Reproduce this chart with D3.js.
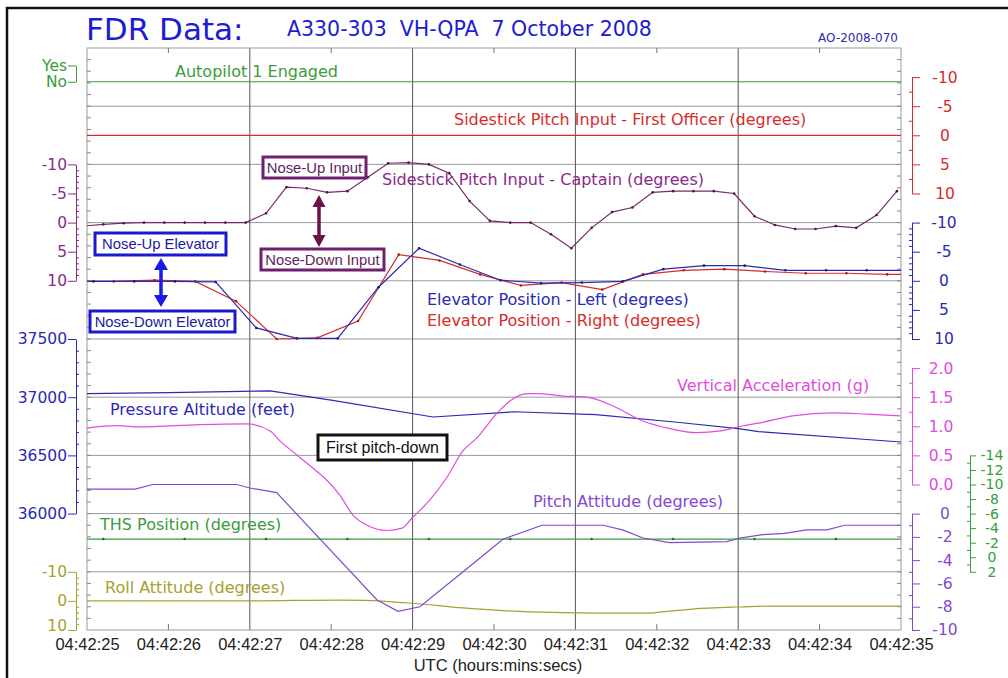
<!DOCTYPE html>
<html>
<head>
<meta charset="utf-8">
<script src="https://cdn.jsdelivr.net/npm/d3@7"></script>
<style>
body { margin: 0; background: #fff; }
svg { display: block; font-family: "DejaVu Sans", sans-serif; }
.ax text { font-family: "DejaVu Sans", sans-serif; }
.tx text { font-family: "Liberation Sans", Arial, sans-serif; }
</style>
</head>
<body>
<svg id="chart" width="1008" height="678"></svg>
<script>
// seconds after 04:42:25
var timeTickValues = [0, 1, 2, 3, 4, 5, 6, 7, 8, 9, 10];
var timeLabels = ["04:42:25", "04:42:26", "04:42:27", "04:42:28", "04:42:29", "04:42:30",
                  "04:42:31", "04:42:32", "04:42:33", "04:42:34", "04:42:35"];

var autopilotT = [0, 10];
var autopilotV = [0, 0];          // 0 = No, 1 = Yes

var foStickT = [0, 10];
var foStickV = [0, 0];

var captStickT = [-0.05, 0.2, 0.45, 0.7, 0.95, 1.2, 1.45, 1.7, 1.95, 2.2, 2.45, 2.7, 2.95, 3.2,
                  3.45, 3.7, 3.95, 4.2, 4.45, 4.7, 4.95, 5.2, 5.45, 5.7, 5.95, 6.2, 6.45, 6.7,
                  6.95, 7.2, 7.45, 7.7, 7.95, 8.2, 8.45, 8.7, 8.95, 9.2, 9.45, 9.7, 9.95];
var captStickV = [0.6, 0.3, 0.1, 0, 0, 0, 0, 0, 0, -1.6, -6.1, -5.9, -5.2, -5.4,
                  -7.8, -10.2, -10.3, -10.0, -8.5, -3.7, -0.3, 0, 0, 2.0, 4.4, 0.9, -1.8, -2.6,
                  -5.2, -5.4, -5.4, -5.4, -5.0, -1.1, 0.4, 1.1, 1.1, 0.6, 0.9, -1.3, -5.4];

var elevLeftT = [-0.42, 0.08, 0.58, 1.08, 1.58, 2.08, 2.58, 3.08, 3.58, 4.08, 4.58,
                 5.08, 5.58, 6.08, 6.58, 7.08, 7.58, 8.08, 8.58, 9.08, 9.58, 10.08];
var elevLeftV = [0.1, 0.1, 0.1, 0.1, 0.2, 8.1, 9.9, 9.9, 1.1, -5.6, -2.8,
                 -0.1, 0.4, 0.3, 0.1, -2.0, -2.6, -2.6, -1.8, -1.8, -1.8, -1.8];

var elevRightT = [-0.17, 0.33, 0.83, 1.33, 1.83, 2.33, 2.83, 3.33, 3.83, 4.33, 4.83,
                  5.33, 5.83, 6.33, 6.83, 7.33, 7.83, 8.33, 8.83, 9.33, 9.83, 10.33];
var elevRightV = [0.1, 0.1, -0.1, 0.1, 3.5, 10.0, 9.8, 6.9, -4.5, -3.5, -1.1,
                  0.8, 0.3, 1.5, -1.1, -1.8, -2.0, -1.6, -1.3, -1.3, -1.1, -1.1];

var altitudeT = [0, 1, 2.25, 3, 4.25, 5.25, 6.25, 7.25, 8, 8.25, 10];
var altitudeV = [37030, 37040, 37055, 36975, 36830, 36875, 36850, 36785, 36730, 36705, 36615];

var vertAccT = [0, 0.37, 0.65, 1.39, 1.97, 2.25, 2.37, 2.62, 3.11, 3.27, 3.44, 3.69, 3.87, 3.99,
                4.21, 4.42, 4.62, 4.79, 5.04, 5.2, 5.41, 5.53, 5.85, 6.14, 6.46, 6.83, 7.16,
                7.49, 7.78, 8.06, 8.27, 8.67, 9.16, 9.58, 9.99];
var vertAccV = [0.97, 1.01, 0.99, 1.03, 1.04, 0.92, 0.75, 0.46, -0.19, -0.53, -0.70, -0.79, -0.75, -0.58,
                -0.27, 0.12, 0.58, 0.80, 1.23, 1.44, 1.56, 1.56, 1.52, 1.50, 1.35, 1.09, 0.96,
                0.89, 0.92, 1.01, 1.06, 1.18, 1.23, 1.21, 1.18];

var pitchT = [0, 0.59, 0.81, 1.84, 2.0, 2.33, 3.56, 3.82, 4.09, 4.62, 5.11, 5.59, 6.34, 6.58,
              6.83, 7.16, 7.86, 8.02, 8.3, 8.57, 8.84, 9.09, 9.31, 10];
var pitchV = [2.1, 2.1, 2.5, 2.5, 2.2, 1.8, -7.4, -8.4, -8.0, -5.0, -2.2, -1.0, -1.0, -1.4,
              -2.1, -2.5, -2.4, -2.1, -1.8, -1.7, -1.4, -1.4, -1.0, -1.0];

var thsT = [-0.8, 0.2, 1.2, 2.2, 3.2, 4.2, 5.2, 6.2, 7.2, 8.2, 9.2, 10.2];
var thsV = [-2.5, -2.5, -2.5, -2.5, -2.5, -2.5, -2.5, -2.5, -2.5, -2.5, -2.5, -2.5];

var rollT = [0, 2.0, 3.1, 3.4, 4.0, 4.62, 5.44, 6.26, 6.88, 7.16, 7.44, 7.99, 8.39, 10];
var rollV = [0, 0, -0.3, -0.2, 0.8, 2.4, 3.8, 4.2, 4.2, 3.5, 2.8, 2.1, 1.8, 1.8];

// colours
var cGreen = "#3a9c3a", cRed = "#d62c2c", cCapt = "#7a2a6c", cCaptTxt = "#8a2a8a",
    cBlue = "#2a2ab4", cMag = "#e04ce0", cPitch = "#8448d0", cOlive = "#a8a030",
    cTitle = "#1c1cd2", cGrid = "#9a9a9a", cGridDark = "#555";

var svg = d3.select("#chart");
svg.append("rect").attr("width", 1008).attr("height", 678).attr("fill", "#fff");

var x = d3.scaleLinear().domain([0, 10]).range([87, 901]);
var row = d3.scaleLinear().domain([0, 10]).range([48, 630]);   // ten grid bands

var yAuto  = d3.scaleLinear().domain([0, 1]).range([row(0.58), row(0.3)]);
var yFo    = d3.scaleLinear().domain([-10, 10]).range([row(0.5), row(2.5)]);
var yCapt  = d3.scaleLinear().domain([-10, 10]).range([row(2), row(4)]);
var yElev  = d3.scaleLinear().domain([-10, 10]).range([row(3), row(5)]);
var yAlt   = d3.scaleLinear().domain([37500, 36000]).range([row(5), row(8)]);
var yAcc   = d3.scaleLinear().domain([2, 0]).range([row(5.5), row(7.5)]);
var yPitch = d3.scaleLinear().domain([0, -10]).range([row(8), row(10)]);
var yThs   = d3.scaleLinear().domain([-14, 2]).range([row(7), row(9)]);
var yRoll  = d3.scaleLinear().domain([-10, 10]).range([row(9), row(10)]);

// outer frame
svg.append("rect").attr("x", 7).attr("y", 8).attr("width", 1100).attr("height", 800)
  .attr("fill", "none").attr("stroke", "#111").attr("stroke-width", 2.5);

// grid
var grid = svg.append("g");
grid.selectAll(".h").data(d3.range(1, 10)).enter().append("line")
  .attr("x1", x(0)).attr("x2", x(10)).attr("y1", d => row(d)).attr("y2", d => row(d))
  .attr("stroke", cGrid).attr("stroke-width", 1);
grid.selectAll(".v").data([2, 4, 6, 8]).enter().append("line")
  .attr("x1", d => x(d)).attr("x2", d => x(d)).attr("y1", row(0)).attr("y2", row(10))
  .attr("stroke", cGridDark).attr("stroke-width", 1);
grid.append("rect").attr("x", x(0)).attr("y", row(0)).attr("width", x(10) - x(0)).attr("height", row(10) - row(0))
  .attr("fill", "none").attr("stroke", cGrid).attr("stroke-width", 1);
// small inner ticks round the plot frame
grid.selectAll(".tt").data([1, 3, 5, 7, 9]).enter().append("path")
  .attr("d", d => "M" + x(d) + "," + row(0) + "v5M" + x(d) + "," + row(10) + "v-6")
  .attr("stroke", "#777");
grid.selectAll(".st").data(d3.range(0.2, 10, 0.2)).enter().append("path")
  .attr("d", d => "M" + x(0) + "," + row(d) + "h4M" + x(10) + "," + row(d) + "h-4")
  .attr("stroke", "#888");

// axes
function axisBlock(o) {
  var g = svg.append("g").attr("class", "ax").attr("transform", "translate(" + o.x + ",0)").style("color", o.color);
  var maj = (o.side === "left" ? d3.axisLeft(o.scale) : d3.axisRight(o.scale))
    .tickValues(o.major).tickSizeInner(o.len || 8).tickSizeOuter(0).tickPadding(1)
    .tickFormat(o.fmt || String);
  g.call(maj);
  g.selectAll(".tick text").style("font-size", o.fs + "px").attr("fill", o.color);
  if (o.lastDy) g.selectAll(".tick text").filter(d => d === o.major[o.major.length - 1]).attr("dy", o.lastDy);
  if (o.labelX !== undefined) {
    g.selectAll(".tick text").attr("x", o.labelX - o.x).attr("text-anchor", "middle");
  }
  if (o.minor) {
    var mn = (o.side === "left" ? d3.axisRight(o.scale) : d3.axisLeft(o.scale))
      .tickValues(o.minor).tickSizeInner(3).tickSizeOuter(0).tickFormat("");
    g.append("g").call(mn).select(".domain").remove();
  }
}

axisBlock({side: "left", x: 76, scale: yAuto, major: [1, 0], color: cGreen, fs: 15.5,
  fmt: d => d ? "Yes" : "No"});
axisBlock({side: "left", x: 76, scale: yCapt, major: [-10, -5, 0, 5, 10], color: cCaptTxt, fs: 15.5,
  minor: d3.range(-9, 10).filter(d => d % 5)});
axisBlock({side: "left", x: 76, scale: yAlt, major: [37500, 37000, 36500, 36000], color: cBlue, fs: 15.5,
  minor: d3.range(36100, 37500, 100).filter(d => d % 500)});
axisBlock({side: "left", x: 76, scale: yRoll, major: [-10, 0, 10], color: cOlive, fs: 15.5, lastDy: "0.05em",
  minor: [-8, -6, -4, -2, 2, 4, 6, 8]});

axisBlock({side: "right", x: 912, scale: yFo, major: [-10, -5, 0, 5, 10], color: cRed, fs: 15.5, labelX: 945,
  minor: [-7.5, -2.5, 2.5, 7.5]});
axisBlock({side: "right", x: 912, scale: yElev, major: [-10, -5, 0, 5, 10], color: cBlue, fs: 15.5, labelX: 944,
  minor: d3.range(-9, 10).filter(d => d % 5)});
axisBlock({side: "right", x: 912, scale: yAcc, major: [2, 1.5, 1, 0.5, 0], color: cMag, fs: 15.5, labelX: 941,
  fmt: d => d.toFixed(1), minor: [1.75, 1.25, 0.75, 0.25]});
axisBlock({side: "right", x: 912, scale: yPitch, major: [0, -2, -4, -6, -8, -10], color: cPitch, fs: 15.5, labelX: 945,
  minor: [-1, -3, -5, -7, -9]});
axisBlock({side: "right", x: 970, scale: yThs, major: [-14, -12, -10, -8, -6, -4, -2, 0, 2], color: cGreen, fs: 14,
  len: 6, labelX: 992, minor: [-13, -11, -9, -7, -5, -3, -1, 1]});

// time axis
var xg = svg.append("g").attr("class", "tx").attr("transform", "translate(0," + row(10) + ")");
xg.call(d3.axisBottom(x).tickValues(timeTickValues).tickSize(0).tickPadding(8)
  .tickFormat(d => timeLabels[d]));
xg.select(".domain").remove();
xg.selectAll(".tick text").style("font-size", "16.5px").attr("fill", "#222");

// data
svg.append("clipPath").attr("id", "plotClip").append("rect")
  .attr("x", x(0)).attr("y", row(0)).attr("width", x(10) - x(0)).attr("height", row(10) - row(0));
var plot = svg.append("g").attr("clip-path", "url(#plotClip)");

function drawSeries(T, V, yS, color, opt) {
  opt = opt || {};
  var pts = d3.zip(T, V);
  var line = d3.line().x(d => x(d[0])).y(d => yS(d[1])).curve(opt.curve || d3.curveLinear);
  plot.append("path").datum(pts).attr("d", line).attr("fill", "none")
    .attr("stroke", color).attr("stroke-width", opt.w || 1.2);
  if (opt.dots) {
    plot.append("g").selectAll("circle").data(pts).enter().append("circle")
      .attr("cx", d => x(d[0])).attr("cy", d => yS(d[1])).attr("r", 1.3).attr("fill", opt.dotColor || color);
  }
}

drawSeries(autopilotT, autopilotV, yAuto, cGreen);
drawSeries(foStickT, foStickV, yFo, cRed);
drawSeries(thsT, thsV, yThs, cGreen, {dots: true, dotColor: "#2a6a2a"});
drawSeries(rollT, rollV, yRoll, cOlive, {curve: d3.curveMonotoneX});
drawSeries(altitudeT, altitudeV, yAlt, cBlue);
drawSeries(vertAccT, vertAccV, yAcc, cMag, {curve: d3.curveMonotoneX});
drawSeries(pitchT, pitchV, yPitch, cPitch);
drawSeries(captStickT, captStickV, yCapt, cCapt, {dots: true, dotColor: "#4a1a40"});
drawSeries(elevRightT, elevRightV, yElev, cRed, {dots: true, dotColor: "#b01818"});
drawSeries(elevLeftT, elevLeftV, yElev, cBlue, {dots: true, dotColor: "#1a1a80"});

// titles and series labels
svg.append("text").attr("x", 86).attr("y", 40).attr("fill", cTitle).style("font-size", "31px").text("FDR Data:");
svg.append("text").attr("x", 287).attr("y", 36).attr("fill", cTitle).style("font-size", "20.5px")
  .attr("xml:space", "preserve").text("A330-303  VH-QPA  7 October 2008");
svg.append("text").attr("x", 898).attr("y", 42).attr("text-anchor", "end").attr("fill", "#2a2ab0")
  .style("font-size", "12px").text("AO-2008-070");

var labels = [
  ["Autopilot 1 Engaged", 175, 77, cGreen],
  ["Sidestick Pitch Input - First Officer (degrees)", 454, 125, cRed],
  ["Sidestick Pitch Input - Captain (degrees)", 382, 185, cCaptTxt],
  ["Elevator Position - Left (degrees)", 427, 305, cBlue],
  ["Elevator Position - Right (degrees)", 427, 326, cRed],
  ["Vertical Acceleration (g)", 677, 391, cMag],
  ["Pressure Altitude (feet)", 110, 415, cBlue],
  ["Pitch Attitude (degrees)", 533, 507, cPitch],
  ["THS Position (degrees)", 100, 530, cGreen],
  ["Roll Attitude (degrees)", 105, 593, cOlive]
];
svg.append("g").selectAll("text").data(labels).enter().append("text")
  .attr("x", d => d[1]).attr("y", d => d[2]).attr("fill", d => d[3])
  .style("font-size", "16px").text(d => d[0]);

svg.append("text").attr("x", 498).attr("y", 671).attr("text-anchor", "middle").attr("fill", "#222")
  .style("font-family", "'Liberation Sans', Arial, sans-serif").style("font-size", "16.5px")
  .text("UTC (hours:mins:secs)");

// annotations
function arrow(xc, ya, yb, color, hw, hh, sw) {
  var g = svg.append("g");
  g.append("line").attr("x1", xc).attr("x2", xc).attr("y1", ya + hh - 1).attr("y2", yb - hh + 1)
    .attr("stroke", color).attr("stroke-width", sw);
  g.append("path").attr("fill", color)
    .attr("d", "M" + xc + "," + ya + "L" + (xc + hw) + "," + (ya + hh) + "L" + (xc - hw) + "," + (ya + hh) + "Z" +
               "M" + xc + "," + yb + "L" + (xc + hw) + "," + (yb - hh) + "L" + (xc - hw) + "," + (yb - hh) + "Z");
}
arrow(319, 195, 247, "#6e1048", 6.5, 12, 3.5);
arrow(161, 258, 307, "#1a1ae6", 7, 12, 3.5);

function box(txt, x0, x1, y0, y1, stroke, fill, fs) {
  var g = svg.append("g");
  g.append("rect").attr("x", x0).attr("y", y0).attr("width", x1 - x0).attr("height", y1 - y0)
    .attr("fill", "#fff").attr("stroke", stroke).attr("stroke-width", 3);
  g.append("text").attr("x", (x0 + x1) / 2).attr("y", (y0 + y1) / 2).attr("dy", "0.36em")
    .attr("text-anchor", "middle").attr("fill", fill)
    .style("font-family", "'Liberation Sans', Arial, sans-serif").style("font-size", fs + "px").text(txt);
}
box("Nose-Up Input", 263, 366, 157, 178, "#6e1f6e", "#5e1e5e", 14.8);
box("Nose-Down Input", 261, 384, 249, 270, "#6e1f6e", "#5e1e5e", 14.8);
box("Nose-Up Elevator", 95, 226, 233, 255, "#1a1acc", "#1a1aa0", 14.8);
box("Nose-Down Elevator", 90, 235, 311, 332, "#1a1acc", "#1a1aa0", 14.8);
box("First pitch-down", 318, 447, 435, 460, "#111", "#111", 16);
</script>
</body>
</html>
